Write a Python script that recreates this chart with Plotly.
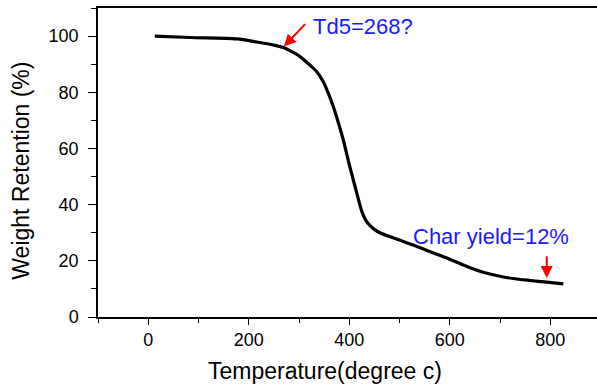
import plotly.graph_objects as go

temperature = [13, 83, 176, 216, 250, 269, 282, 302, 322, 335, 348, 358, 368, 378, 388, 401,
               415, 425, 433, 441, 450, 461, 490, 527, 560, 594, 630, 660, 700, 726, 760, 793, 826]
weight = [100.0, 99.5, 99.0, 97.9, 96.8, 95.9, 94.8, 92.7, 89.6, 87.4, 83.8, 79.8, 75.0, 69.3, 63.1, 53.6,
          44.1, 37.6, 34.4, 32.6, 31.2, 30.0, 28.0, 25.6, 23.3, 21.0, 18.3, 16.3, 14.5, 13.7, 13.0, 12.4, 11.8]

x_ticks = [0, 200, 400, 600, 800]
y_ticks = [0, 20, 40, 60, 80, 100]

td5_label = "Td5=268?"
char_label = "Char yield=12%"
x_title = "Temperature(degree c)"
y_title = "Weight Retention (%)"

FONT = "Arial, Liberation Sans, sans-serif"

fig = go.Figure()
fig.add_trace(go.Scatter(
    x=temperature, y=weight, mode="lines",
    line=dict(color="black", width=3.2, shape="spline", smoothing=0.8),
    showlegend=False, hoverinfo="skip",
))

fig.update_layout(
    width=597, height=388,
    margin=dict(l=98, r=0, t=8, b=71),
    paper_bgcolor="white", plot_bgcolor="white",
    font=dict(family=FONT, color="black"),
    xaxis=dict(
        range=[-100, 893], tickvals=x_ticks, ticks="outside", ticklen=6, tickwidth=1.3,
        tickcolor="black", showline=True, linecolor="black", linewidth=1.5,
        mirror=True, showgrid=False, zeroline=False,
        tickfont=dict(size=18, family=FONT, color="black"),
        minor=dict(dtick=100, tick0=-100, ticks="outside", ticklen=4, tickwidth=1.3, tickcolor="black", showgrid=False),
    ),
    yaxis=dict(
        range=[0, 110], tickvals=y_ticks, ticks="outside", ticklen=8, tickwidth=1.3,
        tickcolor="black", showline=True, linecolor="black", linewidth=1.5,
        mirror=False, showgrid=False, zeroline=False, ticklabelstandoff=6,
        tickfont=dict(size=18, family=FONT, color="black"),
        minor=dict(dtick=10, tick0=0, ticks="outside", ticklen=5, tickwidth=1.3, tickcolor="black", showgrid=False),
    ),
)

annotations = [
    # Td5 arrow
    dict(x=270, y=96.3, ax=315, ay=104.8, xref="x", yref="y", axref="x", ayref="y",
         showarrow=True, arrowhead=2, arrowsize=1.2, arrowwidth=2, arrowcolor="red", text=""),
    dict(x=324, y=103.3, xref="x", yref="y", text=td5_label, showarrow=False,
         xanchor="left", yanchor="middle", font=dict(size=22, color="#1a1aff", family=FONT)),
    # Char yield arrow
    dict(x=793, y=13.9, ax=793, ay=22.2, xref="x", yref="y", axref="x", ayref="y",
         showarrow=True, arrowhead=2, arrowsize=1.2, arrowwidth=2, arrowcolor="red", text=""),
    dict(x=523, y=28.7, xref="x", yref="y", text=char_label, showarrow=False,
         xanchor="left", yanchor="middle", font=dict(size=22, color="#1a1aff", family=FONT)),
    # axis titles
    dict(x=351, y=-0.175, xref="x", yref="paper", text=x_title, showarrow=False,
         xanchor="center", yanchor="middle", font=dict(size=23, family=FONT, color="black")),
    dict(x=-0.156, y=0.474, xref="paper", yref="paper", text=y_title, showarrow=False,
         textangle=-90, xanchor="center", yanchor="middle", font=dict(size=23, family=FONT, color="black")),
]
fig.update_layout(annotations=annotations)

fig.write_html("out.html")
